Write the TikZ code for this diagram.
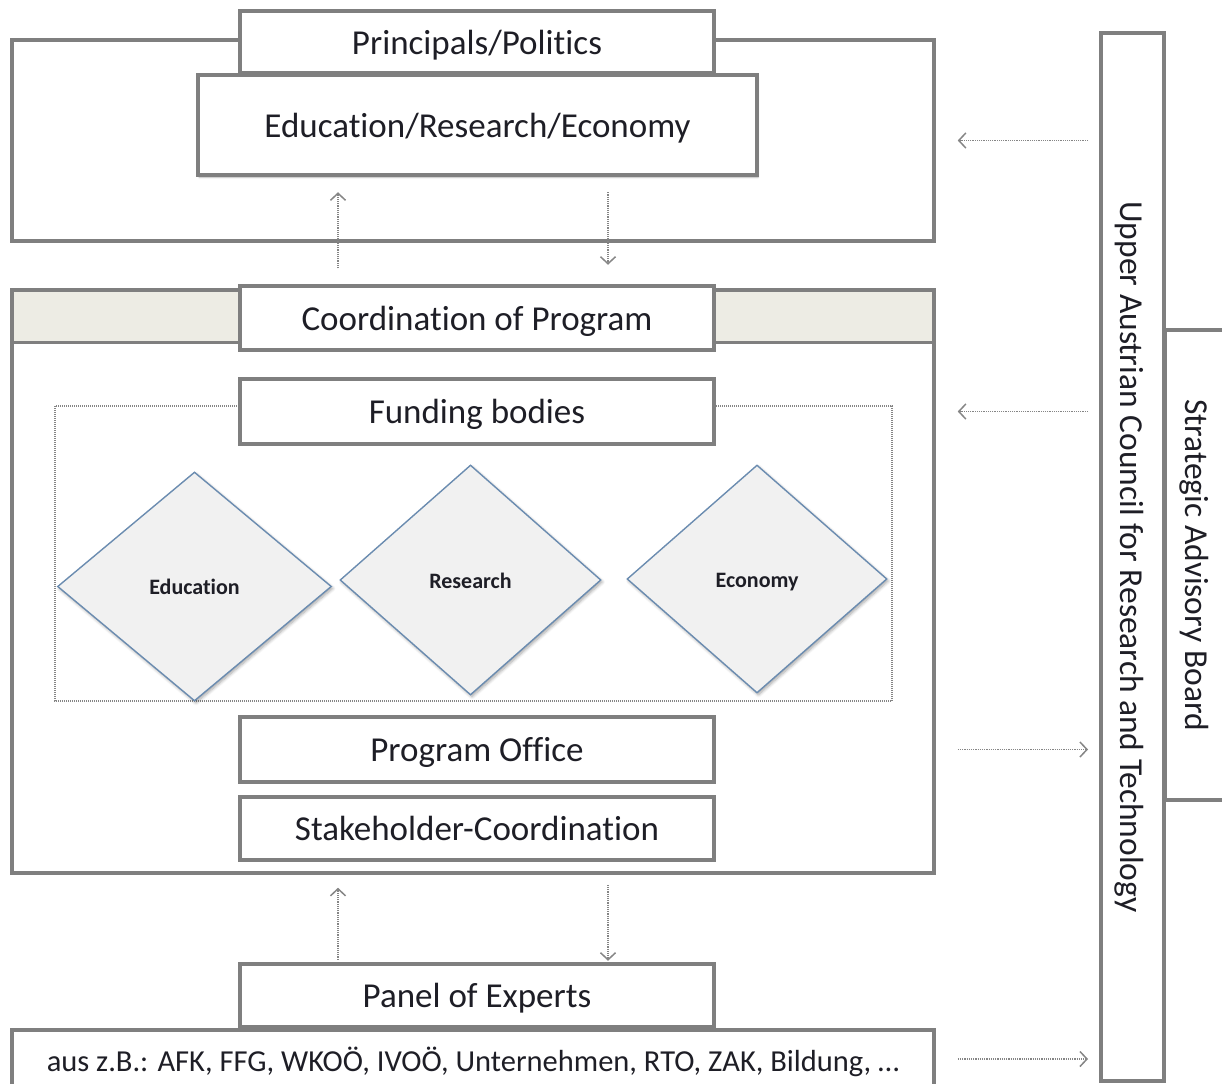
\documentclass[tikz,border=0pt]{standalone}
\usepackage{fontspec}
\setmainfont{Carlito}[Ligatures=NoCommon]
\usetikzlibrary{arrows.meta,shapes.geometric,shadows.blur}

\definecolor{framegray}{HTML}{7F7F7F}
\definecolor{ink}{HTML}{1E1E26}
\definecolor{stripfill}{HTML}{EDECE4}
\definecolor{fieldfill}{HTML}{F1F1F1}
\definecolor{fieldline}{HTML}{6B8CB0}
\definecolor{flowgray}{HTML}{858585}

\begin{document}
\begin{tikzpicture}[x=1pt,y=-1pt,
  outerframe/.style={draw=framegray, line width=3.5pt, inner sep=0pt},
  box/.style={draw=framegray, line width=4.5pt, fill=white, text=ink,
    font=\fontsize{35}{42}\selectfont, inner sep=0pt, text depth=0pt},
  smallbox/.style={box, font=\fontsize{30.5}{36}\selectfont},
  pillar/.style={draw=framegray, line width=4pt, fill=white, text=ink,
    font=\fontsize{33.5}{40}\selectfont, inner sep=0pt, rotate=-90, text depth=0pt},
  field/.style={diamond, draw=fieldline, line width=1.4pt, fill=fieldfill, text=ink,
    font=\bfseries\fontsize{22}{26}\selectfont, inner sep=0pt, text depth=0pt,
    blur shadow={shadow xshift=1.5pt, shadow yshift=-2pt, shadow blur steps=6,
      shadow opacity=35, shadow blur radius=3pt}},
  flow/.style={draw=flowgray, line width=1.4pt, dash pattern=on 1.2pt off 1pt,
    -{Straight Barb[length=7pt, width=15pt, line width=1.5pt]}}
]
\useasboundingbox (0,0) rectangle (1222,1083);
\clip (0,0) rectangle (1222,1083);

% ---- top level: principals ----
\node[outerframe, minimum width=922pt, minimum height=201pt] (top) at (473,140.5) {};
\node[box, minimum width=474pt, minimum height=62pt] (principals) at (477,42) {Principals/Politics};
\node[box, minimum width=559pt, minimum height=100pt,
  blur shadow={shadow xshift=1pt, shadow yshift=-2.5pt, shadow blur steps=4,
    shadow opacity=30, shadow blur radius=1.5pt}]
  (edu) at (477.5,125) {Education/Research/Economy};

% ---- program level ----
\fill[stripfill] (12,290) rectangle (934,342);
\draw[framegray, line width=3pt] (12,342) -- (934,342);
\node[outerframe, minimum width=922pt, minimum height=583pt] (mid) at (473,581.5) {};
\node[box, minimum width=474pt, minimum height=64pt] (coord) at (477,318) {Coordination of Program};

% funding area
\draw[flowgray, line width=1.2pt, dash pattern=on 1pt off 1pt] (55,406) rectangle (892,701);
\node[box, minimum width=474pt, minimum height=65pt] (funding) at (477,411.5) {Funding bodies};
\node[field, minimum width=274pt, minimum height=229pt] (feducation) at (194.5,586.5) {Education};
\node[field, minimum width=261pt, minimum height=230pt] (fresearch) at (470.5,580) {\raisebox{-1pt}{Research}};
\node[field, minimum width=260pt, minimum height=228pt] (feconomy) at (757,579) {\raisebox{-3.5pt}{Economy}};

\node[box, minimum width=474pt, minimum height=65pt] (office) at (477,749.5) {Program Office};
\node[box, minimum width=474pt, minimum height=63pt] (stake) at (477,828.5) {Stakeholder-Coordination};

% ---- experts ----
\node[smallbox, line width=3.5pt, minimum width=922pt, minimum height=58pt] (aus) at (473,1059)
  {aus z.B.: AFK, FFG, WKOÖ, IVOÖ, Unternehmen, RTO, ZAK, Bildung, \dots};
\node[box, minimum width=474pt, minimum height=63pt] (panel) at (477,995.5) {Panel of Experts};

% ---- advisory pillars (rotated: local south faces left) ----
\node[pillar, minimum width=470pt, minimum height=64pt] (board) at (1197,565) {Strategic Advisory Board};
\node[pillar, minimum width=1048pt, minimum height=63pt] (council) at (1132.5,557)
  {Upper Austrian Council for Research and Technology};

% ---- vertical flows ----
\coordinate (ua) at (338,0);
\coordinate (da) at (608,0);
\draw[flow, shorten <=20pt, shorten >=15pt] (mid.north -| ua) -- (edu.south -| ua);
\draw[flow, shorten <=15pt, shorten >=19pt] (edu.south -| da) -- (coord.north -| da);
\draw[flow, shorten <=2pt, shorten >=13pt] (panel.north -| ua) -- (mid.south -| ua);
\draw[flow, shorten <=10pt, shorten >=1pt] (mid.south -| da) -- (panel.north -| da);

% ---- horizontal flows ----
\draw[flow, shorten <=11pt, shorten >=22pt] (council.south |- top.east) -- (top.east);
\draw[flow, shorten <=11pt, shorten >=22pt] (council.south |- funding) -- (mid.east |- funding);
\draw[flow, shorten <=22pt, shorten >=11pt] (mid.east |- office) -- (council.south |- office);
\draw[flow, shorten <=22pt, shorten >=11pt] (aus.east) -- (council.south |- aus.east);
\end{tikzpicture}
\end{document}
